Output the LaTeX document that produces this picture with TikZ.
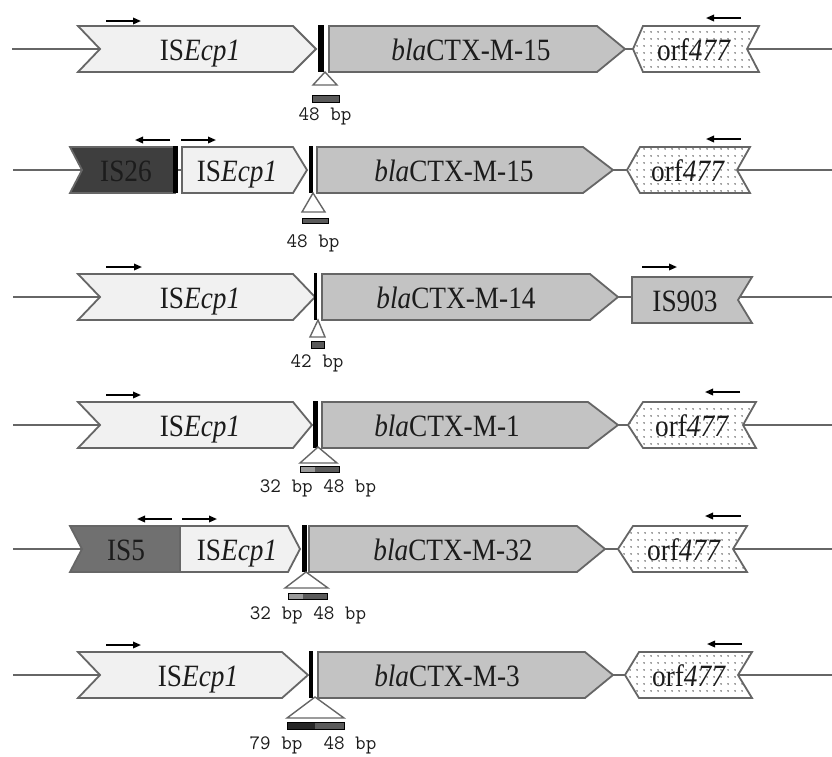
\documentclass[tikz,border=0pt]{standalone}
\usepackage{fontspec}
\setmainfont{Liberation Serif}
\usetikzlibrary{arrows.meta,patterns.meta}
\definecolor{olc}{HTML}{666666}
\definecolor{isf}{HTML}{F1F1F1}
\definecolor{blaf}{HTML}{C3C3C3}
\definecolor{isxxvi}{HTML}{3E3E3E}
\definecolor{isv}{HTML}{707070}
\definecolor{dotc}{HTML}{4A4A4A}
\definecolor{txtc}{HTML}{1C1C1C}
\definecolor{barf}{HTML}{5A5A5A}
\definecolor{barl}{HTML}{9A9A9A}
\tikzset{
 dnaline/.style={draw=olc, line width=1.6pt},
 ispart/.style={draw=olc, line width=1.8pt, fill=isf},
 blapart/.style={draw=olc, line width=1.8pt, fill=blaf},
 orfpart/.style={draw=olc, line width=1.8pt, pattern={Dots[distance=6.5pt,radius=0.9pt]}, pattern color=dotc},
 darkpart/.style={draw=olc, line width=1.8pt, fill=isxxvi},
 midpart/.style={draw=olc, line width=1.8pt, fill=isv},
 lbl/.style={font=\fontsize{31}{31}\selectfont, xscale=0.88, text=txtc, inner sep=0pt, anchor=base},
 bplbl/.style={font=\ttfamily\fontsize{20.5}{20.5}\selectfont, text=txtc, inner sep=0pt},
 dirarr/.style={draw=black, line width=1.7pt, -{Triangle[length=8pt,width=6.5pt]}},
 ins/.style={draw=olc, line width=1.4pt, fill=white},
 insbar/.style={draw=black, line width=1pt, fill=barf},
 junc/.style={fill=black},
}
% shapes (coordinates relative to the row centre line)
\newcommand{\fwdshape}[5]{\path[#1] (#2,-23) -- (#4,-23) -- (#5,0) -- (#4,23) -- (#2,23) -- (#3,0) -- cycle;}
\newcommand{\geneshape}[4]{\path[#1] (#2,-23) -- (#3,-23) -- (#4,0) -- (#3,23) -- (#2,23) -- cycle;}
\newcommand{\revshape}[5]{\path[#1] (#2,0) -- (#3,-23) -- (#4,-23) -- (#5,0) -- (#4,23) -- (#3,23) -- cycle;}
\newcommand{\notchshape}[4]{\path[#1] (#2,-23) -- (#4,-23) -- (#4,23) -- (#2,23) -- (#3,0) -- cycle;}
\newcommand{\tailshape}[4]{\path[#1] (#2,-23) -- (#3,-23) -- (#4,0) -- (#3,23) -- (#2,23) -- cycle;}
\begin{document}
\begin{tikzpicture}[x=1pt,y=-1pt]
\useasboundingbox (0,0) rectangle (832,756);
\fill[white] (0,0) rectangle (832,756);

% ---------------- Row 1
\begin{scope}[shift={(0,49)}]
\coordinate (a1) at (12,0); \coordinate (a2) at (100,0);
\coordinate (a3) at (625,0); \coordinate (a4) at (633,0);
\coordinate (a5) at (747,0); \coordinate (a6) at (832,0);
\draw[dnaline] (a1) -- (a2); \draw[dnaline] (a3) -- (a4); \draw[dnaline] (a5) -- (a6);
\fwdshape{ispart}{78}{100}{293}{316}
\fill[junc] (318,-24) rectangle (324,23);
\geneshape{blapart}{329}{597}{625}
\revshape{orfpart}{633}{643}{759}{747}
\draw[dirarr] (106,-28) -- (141,-28);
\draw[dirarr] (741,-31) -- (706,-31);
\node[lbl] (t1a) at (200,11) {IS\textit{Ecp1}};
\node[lbl] (t1b) at (471,11) {\textit{bla}CTX-M-15};
\node[lbl] (t1c) at (694,11) {orf\textit{477}};
\draw[ins] (325,23) -- (337,36) -- (313,36) -- cycle;
\draw[insbar] (312,46) rectangle (339,53);
\node[bplbl] (b1) at (325,67) {48 bp};
\end{scope}

% ---------------- Row 2
\begin{scope}[shift={(0,170)}]
\coordinate (c1) at (13,0); \coordinate (c2) at (82,0);
\coordinate (c3) at (177,0); \coordinate (c4) at (182,0);
\coordinate (c5) at (613,0); \coordinate (c6) at (627,0);
\coordinate (c7) at (737,0); \coordinate (c8) at (832,0);
\draw[dnaline] (c1) -- (c2); \draw[dnaline] (c3) -- (c4);
\draw[dnaline] (c5) -- (c6); \draw[dnaline] (c7) -- (c8);
\notchshape{darkpart}{70}{82}{175}
\fill[junc] (173,-24) rectangle (178,23);
\geneshape{ispart}{182}{293}{307}
\fill[junc] (309,-24) rectangle (313,23);
\geneshape{blapart}{317}{583}{613}
\revshape{orfpart}{627}{640}{750}{737}
\draw[dirarr] (170,-30) -- (135,-30);
\draw[dirarr] (181,-30) -- (216,-30);
\draw[dirarr] (741,-31) -- (706,-31);
\node[lbl] (t2a) at (126,11) {IS26};
\node[lbl] (t2b) at (237,11) {IS\textit{Ecp1}};
\node[lbl] (t2c) at (454,11) {\textit{bla}CTX-M-15};
\node[lbl] (t2d) at (688,11) {orf\textit{477}};
\draw[ins] (313,23) -- (325,42) -- (302,42) -- cycle;
\draw[insbar] (302,48) rectangle (328,53);
\node[bplbl] (b2) at (313,73) {48 bp};
\end{scope}

% ---------------- Row 3
\begin{scope}[shift={(0,297)}]
\coordinate (d1) at (13,0); \coordinate (d2) at (100,0);
\coordinate (d3) at (618,0); \coordinate (d4) at (632,0);
\coordinate (d5) at (738,0); \coordinate (d6) at (832,0);
\draw[dnaline] (d1) -- (d2); \draw[dnaline] (d3) -- (d4); \draw[dnaline] (d5) -- (d6);
\fwdshape{ispart}{78}{100}{293}{315}
\fill[junc] (314,-24) rectangle (317,23);
\geneshape{blapart}{322}{590}{618}
\begin{scope}[shift={(0,3)}]
\tailshape{blapart}{632}{752}{738}
\node[lbl] (t3c) at (685,11) {IS903};
\end{scope}
\draw[dirarr] (106,-30) -- (142,-30);
\draw[dirarr] (642,-30) -- (677,-30);
\node[lbl] (t3a) at (200,11) {IS\textit{Ecp1}};
\node[lbl] (t3b) at (456,11) {\textit{bla}CTX-M-14};
\draw[ins] (318,23) -- (325,40) -- (310,40) -- cycle;
\draw[insbar] (311,44) rectangle (324,51);
\node[bplbl] (b3) at (317,66) {42 bp};
\end{scope}

% ---------------- Row 4
\begin{scope}[shift={(0,425)}]
\coordinate (e1) at (13,0); \coordinate (e2) at (100,0);
\coordinate (e3) at (618,0); \coordinate (e4) at (628,0);
\coordinate (e5) at (743,0); \coordinate (e6) at (832,0);
\draw[dnaline] (e1) -- (e2); \draw[dnaline] (e3) -- (e4); \draw[dnaline] (e5) -- (e6);
\fwdshape{ispart}{78}{100}{293}{312}
\fill[junc] (313,-24) rectangle (318,23);
\geneshape{blapart}{322}{588}{618}
\revshape{orfpart}{628}{643}{756}{743}
\draw[dirarr] (106,-30) -- (141,-30);
\draw[dirarr] (740,-33) -- (705,-33);
\node[lbl] (t4a) at (200,11) {IS\textit{Ecp1}};
\node[lbl] (t4b) at (447,11) {\textit{bla}CTX-M-1};
\node[lbl] (t4c) at (692,11) {orf\textit{477}};
\draw[ins] (318,22) -- (337,38) -- (300,38) -- cycle;
\fill[barl] (300,41) rectangle (315,47);
\fill[barf] (315,41) rectangle (339,47);
\draw[black, line width=1pt] (300,41) rectangle (339,47);
\node[bplbl] (b4) at (318,63) {32 bp 48 bp};
\end{scope}

% ---------------- Row 5
\begin{scope}[shift={(0,549)}]
\coordinate (f1) at (13,0); \coordinate (f2) at (82,0);
\coordinate (f3) at (605,0); \coordinate (f4) at (618,0);
\coordinate (f5) at (733,0); \coordinate (f6) at (832,0);
\draw[dnaline] (f1) -- (f2); \draw[dnaline] (f3) -- (f4); \draw[dnaline] (f5) -- (f6);
\notchshape{midpart}{70}{82}{180}
\geneshape{ispart}{180}{288}{300}
\fill[junc] (302,-24) rectangle (307,23);
\geneshape{blapart}{309}{577}{605}
\revshape{orfpart}{618}{633}{747}{733}
\draw[dirarr] (172,-30) -- (137,-30);
\draw[dirarr] (182,-30) -- (217,-30);
\draw[dirarr] (741,-33) -- (705,-33);
\node[lbl] (t5a) at (126,11) {IS5};
\node[lbl] (t5b) at (237,11) {IS\textit{Ecp1}};
\node[lbl] (t5c) at (453,11) {\textit{bla}CTX-M-32};
\node[lbl] (t5d) at (684,11) {orf\textit{477}};
\draw[ins] (306,23) -- (328,39) -- (285,39) -- cycle;
\fill[barl] (288,44) rectangle (303,50);
\fill[barf] (303,44) rectangle (327,50);
\draw[black, line width=1pt] (288,44) rectangle (327,50);
\node[bplbl] (b5) at (308,66) {32 bp 48 bp};
\end{scope}

% ---------------- Row 6
\begin{scope}[shift={(0,675)}]
\coordinate (g1) at (13,0); \coordinate (g2) at (100,0);
\coordinate (g3) at (613,0); \coordinate (g4) at (625,0);
\coordinate (g5) at (738,0); \coordinate (g6) at (832,0);
\draw[dnaline] (g1) -- (g2); \draw[dnaline] (g3) -- (g4); \draw[dnaline] (g5) -- (g6);
\fwdshape{ispart}{78}{100}{282}{308}
\fill[junc] (309,-24) rectangle (313,23);
\geneshape{blapart}{318}{585}{613}
\revshape{orfpart}{625}{639}{752}{738}
\draw[dirarr] (106,-30) -- (141,-30);
\draw[dirarr] (742,-31) -- (707,-31);
\node[lbl] (t6a) at (198,11) {IS\textit{Ecp1}};
\node[lbl] (t6b) at (447,11) {\textit{bla}CTX-M-3};
\node[lbl] (t6c) at (689,11) {orf\textit{477}};
\draw[ins] (315,22) -- (344,43) -- (287,43) -- cycle;
\fill[black!85] (287,47) rectangle (315,54);
\fill[barf] (315,47) rectangle (344,54);
\draw[black, line width=1pt] (287,47) rectangle (344,54);
\node[bplbl] (b6) at (313,70) {79~bp~~48~bp};
\end{scope}
\end{tikzpicture}
\end{document}
